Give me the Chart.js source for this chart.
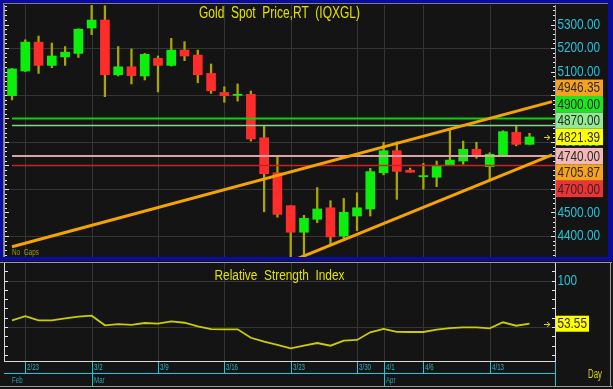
<!DOCTYPE html>
<html><head><meta charset="utf-8">
<script src="https://cdn.jsdelivr.net/npm/chart.js@4.4.1/dist/chart.umd.min.js"></script>
<style>
html,body{margin:0;padding:0;background:#141414;width:613px;height:389px;overflow:hidden}
#wrap{position:relative;width:613px;height:389px}
canvas{position:absolute;left:0;top:0}
</style></head><body>
<div id="wrap"><canvas id="main" width="613" height="389"></canvas><canvas id="rsi" width="613" height="389"></canvas></div>
<script>
// ---------- DATA ----------
const dates = ['2/20','2/23','2/24','2/25','2/26','2/27','3/2','3/3','3/4','3/5','3/6','3/9','3/10','3/11','3/12','3/13','3/16','3/17','3/18','3/19','3/20','3/23','3/24','3/25','3/26','3/27','3/30','3/31','4/1','4/2','4/3','4/6','4/7','4/8','4/9','4/10','4/13','4/14','4/15','4/16'];
const opens  = [4997,5102,5225,5126,5162,5177,5285,5319,5086,5120,5081,5156,5126,5191,5170,5092,5011,4998,5003,4818,4669,4529,4416,4471,4520,4400,4485,4515,4669,4763,4680,4652,4650,4702,4719,4769,4695,4745,4841,4790];
const highs  = [5113,5235,5251,5221,5206,5282,5390,5380,5206,5196,5177,5166,5241,5227,5191,5132,5035,5047,5017,4869,4740,4529,4488,4606,4550,4560,4584,4688,4799,4801,4689,4709,4719,4851,4804,4799,4754,4848,4869,4837];
const lows   = [4979,5100,5092,5116,5126,5160,5257,4993,5081,5047,5064,5013,5123,5146,5052,5007,4969,4974,4804,4503,4480,4290,4305,4457,4362,4390,4423,4485,4660,4556,4671,4599,4610,4702,4705,4731,4638,4745,4784,4790];
const closes = [5111,5225,5126,5166,5182,5280,5319,5086,5120,5082,5173,5126,5191,5166,5086,5018,4997,5002,4813,4665,4492,4416,4475,4515,4396,4501,4520,4674,4763,4675,4671,4656,4699,4723,4769,4745,4748,4844,4790,4821.39];
const rsiValues = [57.2,61.6,57.2,57.2,59.4,61.1,62.2,51.8,53.2,52.2,54.3,53.6,56.1,54.6,50.8,47.8,47.5,47.5,38.4,34.1,30.6,27.0,29.8,32.7,29.8,35.2,36.0,44.3,48.0,44.7,44.6,44.6,47.1,48.9,49.7,49.7,48.6,55.1,51.4,53.55];
const tickDates = ['2/23','3/2','3/9','3/16','3/23','3/30','4/1','4/6','4/13'];
const monthNames = ['Feb','Mar','Apr'];
const monthStarts = ['2/20','3/2','4/1'];
const priceTickValues = [5300,5200,5100,5000,4900,4800,4700,4600,4500,4400];
const priceGridValues = [5200,5000,4800,4600,4400];
const levelValues = [4900,4870,4740,4700];
const upperTrendX = [0,40.7], upperTrendY = [4354.5,4972];
const lowerTrendX = [21,40.7], lowerTrendY = [4291.9,4745];
const upperTrendLast = 4946.35, lowerTrendLast = 4705.87;
const lastPrice = 4821.39, lastRsi = 53.55;
const rsiGridValues = [100,50];
const rsiTickLabels = [100,50];

// ---------- STYLE ----------
const X_MIN = -0.53, X_MAX = 40.92;
const FONT = '"Liberation Sans", Arial, sans-serif';
const CYAN = '#1ec6dc', YEL = '#e2e200', GRID = '#353535';
const levelColors = ['#00d800','#86d286','#dba3a3','#cc2020'];
const levelWidths = [2,1.6,2,1.6];
const levelBoxColors = ['#1ee61e','#92ea92','#f4b8b8','#f23232'];
const idx = d => dates.indexOf(d);

function txt(ctx, s, x, y, size, color, sx, align){
  ctx.save();
  ctx.font = size + 'px ' + FONT;
  ctx.translate(x, y); ctx.scale(sx||1, 1);
  ctx.fillStyle = color; ctx.textBaseline = 'middle'; ctx.textAlign = align || 'left';
  ctx.fillText(s, 0, 0);
  ctx.restore();
}
function fit(ctx, s, x, y, size, color, width){
  ctx.save(); ctx.font = size + 'px ' + FONT;
  const w = ctx.measureText(s).width; ctx.restore();
  txt(ctx, s, x, y, size, color, width / w);
}
function sxFor(ctx, sample, size, width){
  ctx.save(); ctx.font = size + 'px ' + FONT;
  const w = ctx.measureText(sample).width; ctx.restore();
  return width / w;
}
function hline(ctx, x1, x2, y, c){ ctx.fillStyle = c; ctx.fillRect(x1, Math.round(y), x2 - x1, 1); }
function vline(ctx, x, y1, y2, c){ ctx.fillStyle = c; ctx.fillRect(Math.round(x), y1, 1, y2 - y1); }
function arrow(ctx, x, y){
  ctx.save(); ctx.strokeStyle = '#d8d800'; ctx.lineWidth = 1;
  ctx.beginPath(); ctx.moveTo(x - 4, y + 0.5); ctx.lineTo(x + 2, y + 0.5);
  ctx.moveTo(x - 1, y - 2); ctx.lineTo(x + 2, y + 0.5); ctx.lineTo(x - 1, y + 3); ctx.stroke();
  ctx.restore();
}

const mainPlugin = {
  id: 'mainDeco',
  beforeDraw(chart){
    const ctx = chart.ctx, xs = chart.scales.x, ys = chart.scales.y, a = chart.chartArea;
    ctx.save();
    ctx.fillStyle = '#141414'; ctx.fillRect(0, 0, 613, 389);
    ctx.fillStyle = '#0c0c9c';
    ctx.fillRect(0, 0, 613, 3); ctx.fillRect(0, 0, 3, 261); ctx.fillRect(608, 0, 5, 261); ctx.fillRect(0, 257, 613, 4);
    ctx.fillStyle = '#7c7c90'; ctx.fillRect(3, 3, 605, 1); ctx.fillRect(3, 3, 1, 254);
    priceGridValues.forEach(v => hline(ctx, a.left, a.right, ys.getPixelForValue(v), GRID));
    tickDates.forEach(d => vline(ctx, xs.getPixelForValue(idx(d)), a.top, a.bottom, GRID));
    vline(ctx, 4, a.top, a.bottom, '#9a9a9a');
    vline(ctx, 555, a.top, a.bottom, '#9a9a9a');
    for (let v = 4320; v <= 5380; v += 20){
      const y = Math.round(ys.getPixelForValue(v));
      const L = (v % 100 === 0) ? 4 : 2;
      ctx.fillStyle = '#e8e8e8';
      ctx.fillRect(5, y, L, 1);
      ctx.fillRect(555 - L, y, L, 1);
    }
    ctx.restore();
  },
  afterDatasetsDraw(chart){
    const ctx = chart.ctx, ys = chart.scales.y;
    ctx.save();
    fit(ctx, 'Gold  Spot  Price,RT  (IQXGL)', 199, 13.5, 16, YEL, 161);
    fit(ctx, 'No  Gaps', 12, 253, 9, '#9c9c00', 27);
    const sx = sxFor(ctx, '5300.00', 15, 42.5);
    priceTickValues.forEach(v => txt(ctx, v.toFixed(2), 557.5, ys.getPixelForValue(v), 15, CYAN, sx));
    const H = 16.4;
    const above = [[4870, levelBoxColors[1]],[4900, levelBoxColors[0]],[upperTrendLast,'#f7a21c']];
    const below = [[4740, levelBoxColors[2]],[lowerTrendLast,'#f7a21c'],[4700, levelBoxColors[3]]];
    const boxes = [];
    let c0 = ys.getPixelForValue(lastPrice);
    boxes.push([lastPrice, '#ffff00', c0]);
    let prev = c0;
    above.forEach(([v, col]) => { const c = Math.min(ys.getPixelForValue(v), prev - H); boxes.push([v, col, c]); prev = c; });
    prev = c0 - H;
    below.forEach(([v, col]) => { const c = Math.max(ys.getPixelForValue(v), prev + H); boxes.push([v, col, c]); prev = c; });
    boxes.forEach(([v, col, c]) => {
      ctx.fillStyle = col; ctx.fillRect(556, c - H / 2, 47, H);
      txt(ctx, v.toFixed(2), 557.5, c + 0.5, 15, '#2a2a2a', sx);
    });
    arrow(ctx, 548, Math.round(ys.getPixelForValue(lastPrice)));
    ctx.restore();
  }
};

const bodyColors = dates.map((d, i) => closes[i] >= opens[i] ? '#0cee0c' : '#ff2c2c');
const lineDs = (xv, yv, color, w, order) => ({type: 'line', data: xv.map((x, i) => ({x, y: yv[i]})), borderColor: color, borderWidth: w, pointRadius: 0, tension: 0, order});

new Chart(document.getElementById('main'), {
  type: 'bar',
  data: { datasets: [
    ...levelValues.map((v, k) => lineDs([0, X_MAX], [v, v], levelColors[k], levelWidths[k], 1)),
    lineDs(upperTrendX, upperTrendY, '#f5a300', 3, 0),
    lineDs(lowerTrendX, lowerTrendY, '#f5a300', 3, 0),
    { type: 'bar', data: dates.map((d, i) => ({x: i, y: [lows[i], highs[i]]})), backgroundColor: '#aea600', barThickness: 1.6, grouped: false, order: 6, borderWidth: 0 },
    { type: 'bar', data: dates.map((d, i) => ({x: i, y: [opens[i], closes[i]]})), backgroundColor: bodyColors, barThickness: 9, grouped: false, order: 5, borderWidth: 0, minBarLength: 1.2 }
  ]},
  options: {
    responsive: false, animation: false, devicePixelRatio: 1,
    layout: { padding: { left: 5, right: 58, top: 5, bottom: 132 } },
    plugins: { legend: { display: false }, tooltip: { enabled: false } },
    scales: {
      x: { type: 'linear', min: X_MIN, max: X_MAX, offset: false, display: false },
      y: { min: 4310.6, max: 5383, display: false }
    }
  },
  plugins: [mainPlugin]
});

const rsiPlugin = {
  id: 'rsiDeco',
  beforeDraw(chart){
    const ctx = chart.ctx, xs = chart.scales.x, ys = chart.scales.y, a = chart.chartArea;
    ctx.save();
    hline(ctx, 0, 612, 262, '#9a9a9a');
    vline(ctx, 610, 262, 387, '#9a9a9a');
    hline(ctx, 0, 612, 386, '#9a9a9a');
    rsiGridValues.forEach(v => hline(ctx, a.left, a.right, ys.getPixelForValue(v), GRID));
    tickDates.forEach(d => vline(ctx, xs.getPixelForValue(idx(d)), a.top, a.bottom, GRID));
    vline(ctx, 4, a.top, a.bottom + 1, '#d8d8d8');
    vline(ctx, 555, a.top, a.bottom + 1, '#d8d8d8');
    hline(ctx, 4, 556, a.bottom, '#d8d8d8');
    for (let v = 20; v <= 110; v += 10){
      const y = Math.round(ys.getPixelForValue(v));
      ctx.fillStyle = '#e8e8e8';
      ctx.fillRect(5, y, 3, 1); ctx.fillRect(552, y, 3, 1);
    }
    ctx.restore();
  },
  afterDatasetsDraw(chart){
    const ctx = chart.ctx, xs = chart.scales.x, ys = chart.scales.y, a = chart.chartArea;
    ctx.save();
    fit(ctx, 'Relative  Strength  Index', 214.5, 276.5, 14, YEL, 130);
    const sx = sxFor(ctx, '5300.00', 15, 42.5);
    rsiTickLabels.forEach(v => txt(ctx, String(v), 557.5, ys.getPixelForValue(v), 15, CYAN, sx));
    const c = ys.getPixelForValue(lastRsi);
    ctx.fillStyle = '#ffff00'; ctx.fillRect(556, c - 8, 33, 16);
    txt(ctx, lastRsi.toFixed(2), 557.5, c + 0.5, 15, '#2a2a2a', sx);
    arrow(ctx, 548, Math.round(c));
    const top = a.bottom + 1;
    hline(ctx, 4, 556, 373, CYAN);
    const dsx = sxFor(ctx, '2/23', 9, 12);
    tickDates.forEach(d => {
      const x = xs.getPixelForValue(idx(d));
      vline(ctx, x, top, 373, CYAN);
      txt(ctx, d, Math.round(x) + 2, 368, 9, '#2ab2c2', dsx);
    });
    monthStarts.forEach((d, k) => {
      const i = idx(d);
      let x = k === 0 ? 4 : Math.round(xs.getPixelForValue(i));
      if (k > 0) vline(ctx, x, top, 386, CYAN);
      txt(ctx, monthNames[k], x + (k === 0 ? 8 : 2), 380.5, 9, '#2aa2b2', dsx);
    });
    vline(ctx, 555, top, 386, CYAN);
    fit(ctx, 'Day', 588, 374.5, 12, '#d4d400', 14);
    ctx.restore();
  }
};

new Chart(document.getElementById('rsi'), {
  type: 'line',
  data: { datasets: [{ data: rsiValues.map((v, i) => ({x: i, y: v})), borderColor: '#cccc00', borderWidth: 1.8, pointRadius: 0, tension: 0 }] },
  options: {
    responsive: false, animation: false, devicePixelRatio: 1,
    layout: { padding: { left: 5, right: 58, top: 263, bottom: 28 } },
    plugins: { legend: { display: false }, tooltip: { enabled: false } },
    scales: {
      x: { type: 'linear', min: X_MIN, max: X_MAX, display: false },
      y: { min: 13.3, max: 119.1, display: false }
    }
  },
  plugins: [rsiPlugin]
});
</script>
</body></html>
